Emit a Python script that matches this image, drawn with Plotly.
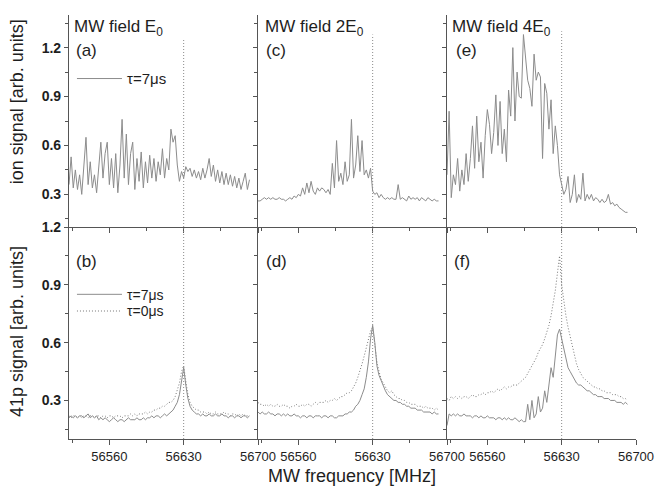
import plotly.graph_objects as go
from plotly.subplots import make_subplots

freq = [56522, 56524, 56526, 56528, 56530, 56532, 56534, 56536, 56538, 56540,
        56542, 56544, 56546, 56548, 56550, 56552, 56554, 56556, 56558, 56560,
        56562, 56564, 56566, 56568, 56570, 56572, 56574, 56576, 56578, 56580,
        56582, 56584, 56586, 56588, 56590, 56592, 56594, 56596, 56598, 56600,
        56602, 56604, 56606, 56608, 56610, 56612, 56614, 56616, 56618, 56620,
        56622, 56624, 56626, 56628, 56630, 56632, 56634, 56636, 56638, 56640,
        56642, 56644, 56646, 56648, 56650, 56652, 56654, 56656, 56658, 56660,
        56662, 56664, 56666, 56668, 56670, 56672, 56674, 56676, 56678, 56680,
        56682, 56684, 56686, 56688, 56690, 56692]

center_freq = 56630

ion_a = [0.36, 0.53, 0.34, 0.45, 0.33, 0.42, 0.30, 0.48, 0.65, 0.36,
         0.50, 0.34, 0.42, 0.31, 0.47, 0.62, 0.40, 0.55, 0.62, 0.36,
         0.52, 0.34, 0.55, 0.31, 0.48, 0.76, 0.40, 0.67, 0.36, 0.55,
         0.62, 0.33, 0.52, 0.38, 0.56, 0.34, 0.50, 0.37, 0.54, 0.40,
         0.52, 0.38, 0.50, 0.42, 0.58, 0.40, 0.52, 0.45, 0.70, 0.62,
         0.66, 0.48, 0.38, 0.44, 0.40, 0.47, 0.44, 0.46, 0.41, 0.45,
         0.40, 0.44, 0.39, 0.46, 0.40, 0.45, 0.52, 0.41, 0.48, 0.38,
         0.45, 0.37, 0.44, 0.36, 0.43, 0.36, 0.42, 0.35, 0.41, 0.34,
         0.40, 0.33, 0.38, 0.43, 0.33, 0.39]

ion_c = [0.26, 0.26, 0.27, 0.28, 0.27, 0.28, 0.27, 0.28, 0.27, 0.27,
         0.28, 0.27, 0.27, 0.26, 0.27, 0.28, 0.27, 0.29, 0.28, 0.30,
         0.29, 0.34, 0.30, 0.37, 0.31, 0.38, 0.32, 0.30, 0.34, 0.32,
         0.34, 0.33, 0.31, 0.33, 0.30, 0.49, 0.34, 0.63, 0.38, 0.43,
         0.36, 0.50, 0.38, 0.42, 0.76, 0.40, 0.48, 0.66, 0.44, 0.63,
         0.42, 0.45, 0.40, 0.46, 0.32, 0.30, 0.31, 0.28, 0.30, 0.28,
         0.27, 0.28, 0.27, 0.28, 0.27, 0.27, 0.36, 0.27, 0.28, 0.27,
         0.26, 0.29, 0.27, 0.28, 0.27, 0.28, 0.26, 0.28, 0.27, 0.26,
         0.28, 0.27, 0.26, 0.27, 0.26, 0.26]

ion_e = [0.42, 0.81, 0.28, 0.42, 0.36, 0.52, 0.32, 0.45, 0.36, 0.55,
         0.38, 0.52, 0.72, 0.46, 0.78, 0.50, 0.62, 0.40, 0.66, 0.82,
         0.73, 0.55, 0.68, 0.91, 0.60, 0.87, 0.55, 0.70, 0.50, 0.94,
         0.78, 1.20, 0.75, 1.05, 0.90, 0.89, 1.28, 1.14, 1.00, 0.95,
         0.84, 1.16, 1.00, 1.05, 1.02, 0.52, 0.98, 0.92, 0.70, 0.88,
         0.55, 0.72, 0.60, 0.42, 0.35, 0.30, 0.33, 0.41, 0.25, 0.30,
         0.42, 0.25, 0.30, 0.27, 0.43, 0.26, 0.30, 0.27, 0.30, 0.26,
         0.28, 0.27, 0.25, 0.27, 0.25, 0.26, 0.30, 0.24, 0.25, 0.23,
         0.24, 0.22, 0.21, 0.20, 0.19, 0.19]

p41_b_7us = [0.21, 0.22, 0.21, 0.22, 0.21, 0.22, 0.22, 0.21, 0.22, 0.23,
             0.21, 0.22, 0.21, 0.22, 0.20, 0.21, 0.20, 0.21, 0.20, 0.19,
             0.20, 0.21, 0.20, 0.19, 0.20, 0.20, 0.19, 0.20, 0.21, 0.20,
             0.20, 0.20, 0.21, 0.20, 0.20, 0.21, 0.20, 0.21, 0.21, 0.22,
             0.21, 0.22, 0.22, 0.21, 0.22, 0.23, 0.22, 0.23, 0.24, 0.25,
             0.27, 0.29, 0.33, 0.40, 0.47, 0.38, 0.31, 0.27, 0.25, 0.24,
             0.23, 0.23, 0.22, 0.23, 0.22, 0.22, 0.23, 0.22, 0.22, 0.23,
             0.22, 0.22, 0.23, 0.22, 0.22, 0.21, 0.22, 0.22, 0.21, 0.22,
             0.22, 0.21, 0.22, 0.22, 0.21, 0.22]

p41_b_0us = [0.22, 0.21, 0.22, 0.22, 0.21, 0.22, 0.21, 0.22, 0.22, 0.21,
             0.22, 0.22, 0.21, 0.22, 0.22, 0.21, 0.22, 0.22, 0.21, 0.22,
             0.22, 0.21, 0.22, 0.22, 0.22, 0.21, 0.22, 0.22, 0.22, 0.23,
             0.22, 0.23, 0.22, 0.23, 0.23, 0.23, 0.24, 0.23, 0.24, 0.24,
             0.25, 0.25, 0.26, 0.26, 0.27, 0.27, 0.28, 0.29, 0.29, 0.30,
             0.32, 0.35, 0.39, 0.45, 0.48, 0.40, 0.33, 0.29, 0.27, 0.26,
             0.25, 0.25, 0.24, 0.24, 0.24, 0.23, 0.24, 0.23, 0.23, 0.24,
             0.23, 0.23, 0.23, 0.24, 0.23, 0.23, 0.22, 0.23, 0.23, 0.22,
             0.23, 0.22, 0.23, 0.22, 0.22, 0.22]

p41_d_7us = [0.24, 0.23, 0.24, 0.23, 0.23, 0.24, 0.23, 0.23, 0.22, 0.23,
             0.23, 0.22, 0.23, 0.22, 0.23, 0.22, 0.22, 0.23, 0.22, 0.22,
             0.21, 0.22, 0.22, 0.21, 0.22, 0.22, 0.21, 0.22, 0.22, 0.22,
             0.21, 0.22, 0.22, 0.21, 0.22, 0.22, 0.21, 0.21, 0.22, 0.22,
             0.22, 0.23, 0.23, 0.24, 0.24, 0.25, 0.27, 0.28, 0.30, 0.33,
             0.36, 0.42, 0.50, 0.62, 0.69, 0.60, 0.48, 0.43, 0.40, 0.37,
             0.35, 0.33, 0.32, 0.31, 0.30, 0.30, 0.29, 0.29, 0.28, 0.28,
             0.27, 0.27, 0.26, 0.26, 0.26, 0.25, 0.25, 0.25, 0.24, 0.24,
             0.24, 0.24, 0.23, 0.24, 0.23, 0.23]

p41_d_0us = [0.29, 0.28, 0.28, 0.27, 0.28, 0.27, 0.28, 0.27, 0.27, 0.28,
             0.27, 0.27, 0.28, 0.27, 0.27, 0.26, 0.27, 0.27, 0.28, 0.27,
             0.27, 0.28, 0.27, 0.28, 0.28, 0.27, 0.28, 0.29, 0.28, 0.29,
             0.29, 0.29, 0.30, 0.29, 0.30, 0.30, 0.31, 0.30, 0.31, 0.32,
             0.32, 0.33, 0.34, 0.34, 0.35, 0.37, 0.39, 0.42, 0.45, 0.49,
             0.53, 0.57, 0.62, 0.66, 0.68, 0.58, 0.50, 0.45, 0.41, 0.39,
             0.37, 0.35, 0.34, 0.35, 0.33, 0.32, 0.31, 0.31, 0.30, 0.30,
             0.29, 0.29, 0.28, 0.28, 0.28, 0.27, 0.27, 0.27, 0.26, 0.27,
             0.26, 0.26, 0.26, 0.25, 0.26, 0.25]

p41_f_7us = [0.17, 0.23, 0.22, 0.23, 0.22, 0.23, 0.22, 0.22, 0.23, 0.22,
             0.22, 0.22, 0.21, 0.22, 0.22, 0.21, 0.22, 0.21, 0.21, 0.22,
             0.21, 0.21, 0.21, 0.20, 0.21, 0.21, 0.20, 0.21, 0.20, 0.21,
             0.20, 0.20, 0.21, 0.20, 0.19, 0.20, 0.19, 0.19, 0.28, 0.20,
             0.30, 0.21, 0.23, 0.32, 0.24, 0.26, 0.35, 0.29, 0.38, 0.47,
             0.42, 0.55, 0.64, 0.67, 0.62, 0.56, 0.51, 0.47, 0.45, 0.43,
             0.41, 0.39, 0.38, 0.38, 0.37, 0.36, 0.35, 0.35, 0.34, 0.33,
             0.33, 0.32, 0.32, 0.32, 0.31, 0.31, 0.31, 0.30, 0.30, 0.30,
             0.29, 0.29, 0.29, 0.28, 0.29, 0.28]

p41_f_0us = [0.31, 0.30, 0.32, 0.31, 0.32, 0.31, 0.32, 0.31, 0.32, 0.32,
             0.31, 0.32, 0.33, 0.32, 0.32, 0.33, 0.33, 0.34, 0.33, 0.34,
             0.34, 0.35, 0.34, 0.35, 0.36, 0.35, 0.36, 0.37, 0.36, 0.37,
             0.37, 0.38, 0.38, 0.38, 0.39, 0.40, 0.41, 0.42, 0.44, 0.46,
             0.48, 0.50, 0.52, 0.55, 0.57, 0.59, 0.62, 0.65, 0.69, 0.74,
             0.80, 0.87, 0.96, 1.05, 0.90, 0.81, 0.74, 0.68, 0.63, 0.58,
             0.53, 0.49, 0.46, 0.44, 0.42, 0.41, 0.40, 0.39, 0.38, 0.37,
             0.37, 0.36, 0.36, 0.35, 0.35, 0.34, 0.34, 0.34, 0.33, 0.33,
             0.33, 0.32, 0.32, 0.31, 0.31, 0.30]

x_major = [56560, 56630, 56700]
x_major_text = ["56560", "56630", "56700"]
y_ticks = [0.3, 0.6, 0.9, 1.2]
y_tick_text = ["0.3", "0.6", "0.9", "1.2"]
top_range = [0.1, 1.4]
bottom_range = [0.1, 1.2]
x_range = [56522, 56700]

FONT = "Liberation Sans, Arial, sans-serif"
TXT = "#1e1e1e"
AX = "#555555"
SOLID = "#8c8c8c"
DOT = "#777777"

fig = make_subplots(rows=2, cols=3, horizontal_spacing=0, vertical_spacing=0)

top_series = [ion_a, ion_c, ion_e]
for c, ys in enumerate(top_series, start=1):
    fig.add_trace(go.Scatter(x=freq, y=ys, mode="lines", name="τ=7μs",
                             line=dict(color=SOLID, width=1),
                             showlegend=(c == 1), legend="legend"),
                  row=1, col=c)

bottom_series = [(p41_b_7us, p41_b_0us), (p41_d_7us, p41_d_0us), (p41_f_7us, p41_f_0us)]
for c, (s7, s0) in enumerate(bottom_series, start=1):
    fig.add_trace(go.Scatter(x=freq, y=s0, mode="lines", name="τ=0μs",
                             line=dict(color=DOT, width=1, dash="1px,2px"),
                             showlegend=(c == 1), legend="legend3"),
                  row=2, col=c)
    fig.add_trace(go.Scatter(x=freq, y=s7, mode="lines", name="τ=7μs",
                             line=dict(color=SOLID, width=1),
                             showlegend=(c == 1), legend="legend2"),
                  row=2, col=c)

line_tops = [1.25, 1.28, 1.30]
for c in range(1, 4):
    fig.add_shape(type="line", x0=center_freq, x1=center_freq, y0=top_range[0], y1=line_tops[c - 1],
                  line=dict(color="#8a8a8a", width=1, dash="1px,2px"), row=1, col=c)
    fig.add_shape(type="line", x0=center_freq, x1=center_freq, y0=bottom_range[0], y1=bottom_range[1],
                  line=dict(color="#8a8a8a", width=1, dash="1px,2px"), row=2, col=c)

for r in (1, 2):
    for c in (1, 2, 3):
        fig.update_xaxes(range=x_range, showgrid=False, zeroline=False,
                         showline=True, linecolor=AX, linewidth=1.2,
                         ticks="outside", ticklen=5, tickwidth=1, tickcolor=AX,
                         tickvals=x_major, ticktext=x_major_text,
                         showticklabels=(r == 2),
                         tickfont=dict(family=FONT, size=13, color=TXT),
                         minor=dict(tick0=56525, dtick=35, ticks="outside", ticklen=3,
                                    tickcolor=AX, showgrid=False),
                         row=r, col=c)
        fig.update_yaxes(range=top_range if r == 1 else bottom_range,
                         showgrid=False, zeroline=False,
                         showline=True, linecolor=AX, linewidth=1.2,
                         ticks="outside", ticklen=4, tickwidth=1, tickcolor=AX,
                         tickvals=y_ticks, ticktext=y_tick_text,
                         showticklabels=(c == 1),
                         tickfont=dict(family=FONT, size=14, color=TXT, weight="bold"),
                         minor=dict(tick0=0.15, dtick=0.3, ticks="outside", ticklen=3,
                                    tickcolor=AX, showgrid=False),
                         row=r, col=c)

W, H = 661, 495
ML, MR, MT, MB = 69, 18, 7, 56
pw = W - ML - MR
ph = H - MT - MB


def px_x(p):
    return (p - ML) / pw


def px_y(p):
    return 1 - (p - MT) / ph


ann = []
titles = [("MW field E<sub>0</sub>", 72), ("MW field 2E<sub>0</sub>", 265), ("MW field 4E<sub>0</sub>", 455)]
for t, xp in titles:
    ann.append(dict(text=t, x=px_x(xp), y=px_y(20), xref="paper", yref="paper",
                    xanchor="left", yanchor="middle", showarrow=False,
                    font=dict(family=FONT, size=17, color=TXT)))
labels = [("(a)", 74, 43), ("(c)", 266, 43), ("(e)", 459, 43),
          ("(b)", 74, 258), ("(d)", 266, 258), ("(f)", 457, 258)]
for t, xp, yp in labels:
    ann.append(dict(text=t, x=px_x(xp), y=px_y(yp), xref="paper", yref="paper",
                    xanchor="left", yanchor="middle", showarrow=False,
                    font=dict(family=FONT, size=17, color=TXT)))
ann.append(dict(text="ion signal [arb. units]", x=0, y=px_y(96), xref="paper", yref="paper",
                xanchor="center", yanchor="middle", xshift=17 - ML, textangle=-90, showarrow=False,
                font=dict(family=FONT, size=18, color=TXT)))
ann.append(dict(text="41p signal [arb. units]", x=0, y=px_y(330), xref="paper", yref="paper",
                xanchor="center", yanchor="middle", xshift=17 - ML, textangle=-90, showarrow=False,
                font=dict(family=FONT, size=18, color=TXT)))
ann.append(dict(text="MW frequency [MHz]", x=px_x(355), y=0, xref="paper", yref="paper",
                xanchor="center", yanchor="middle", yshift=-(476 - (H - MB)), showarrow=False,
                font=dict(family=FONT, size=18, color=TXT)))

leg_common = dict(bgcolor="rgba(0,0,0,0)", borderwidth=0, itemwidth=45,
                  font=dict(family=FONT, size=14, color=TXT),
                  xanchor="left", yanchor="middle", tracegroupgap=0)

fig.update_layout(
    width=W, height=H,
    margin=dict(l=ML, r=MR, t=MT, b=MB),
    paper_bgcolor="white", plot_bgcolor="white",
    annotations=ann,
    showlegend=True,
    legend=dict(x=px_x(72), y=px_y(72), **{**leg_common, "font": dict(family=FONT, size=15, color=TXT)}),
    legend2=dict(x=px_x(72), y=px_y(292), **leg_common),
    legend3=dict(x=px_x(72), y=px_y(309), **leg_common),
)

fig.write_html("out.html")
